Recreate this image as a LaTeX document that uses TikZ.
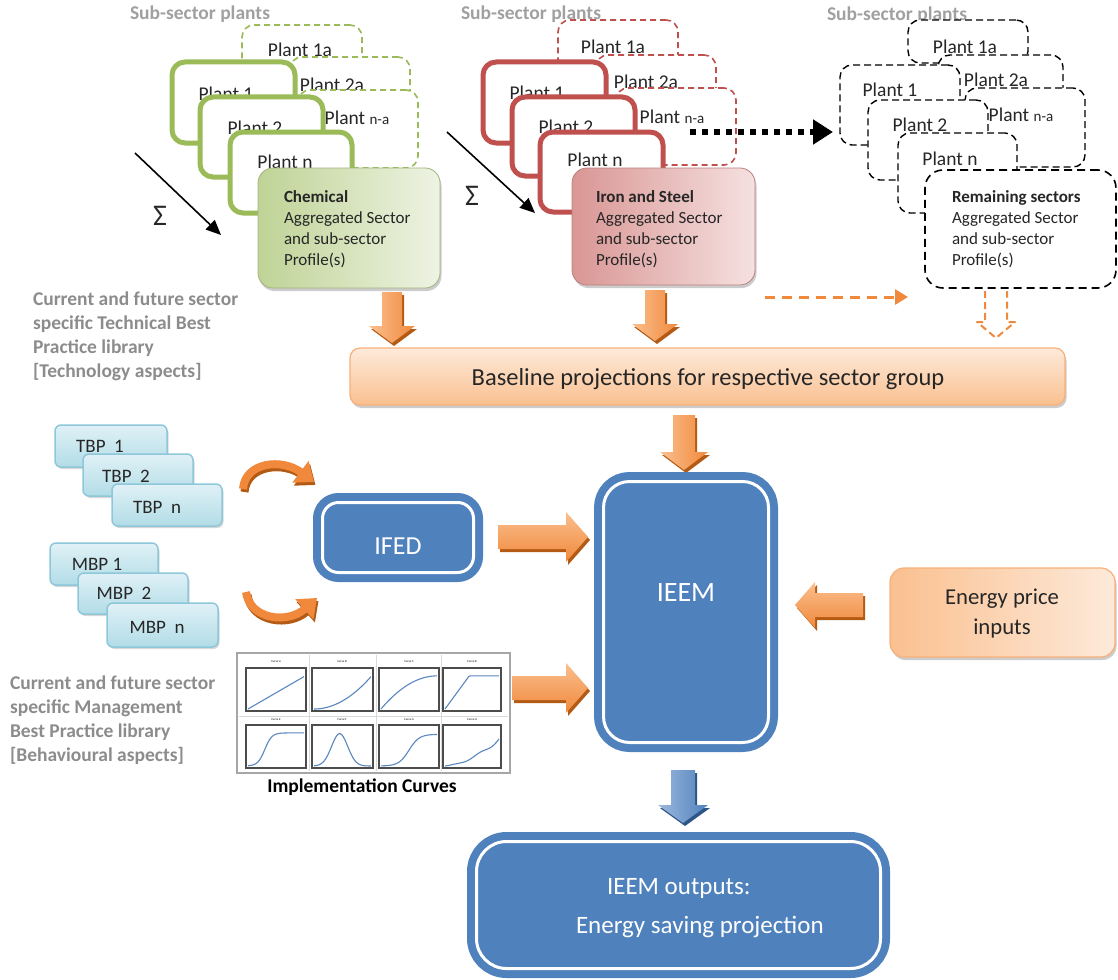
\documentclass[tikz,border=0pt]{standalone}
\usepackage{fontspec}
\setmainfont{Carlito}
\usetikzlibrary{arrows.meta,shadows,calc}
\definecolor{cgreen}{HTML}{9BBB59}
\definecolor{cred}{HTML}{C0504D}
\definecolor{cblue}{HTML}{4F81BD}
\definecolor{corange}{HTML}{F0893C}
\definecolor{corlight}{HTML}{FBBF8E}
\definecolor{cordark}{HTML}{B35A14}
\definecolor{blight}{HTML}{9DB9DD}
\definecolor{bdark}{HTML}{2D5587}
\definecolor{greenA}{HTML}{BFD396}
\definecolor{greenB}{HTML}{EEF3E3}
\definecolor{redA}{HTML}{D99694}
\definecolor{redB}{HTML}{F5E1E0}
\definecolor{peachA}{HTML}{FAC090}
\definecolor{peachB}{HTML}{FDEADA}
\definecolor{peachD}{HTML}{F8B07A}
\definecolor{tbpA}{HTML}{B2DCE7}
\definecolor{tbpB}{HTML}{E0F1F6}
\definecolor{tbpD}{HTML}{8DC7D9}
\definecolor{lblgray}{HTML}{8C8C8C}
\definecolor{subgray}{HTML}{A0A0A0}
\definecolor{txt}{HTML}{262626}
\definecolor{curveblue}{HTML}{5B87C0}

\newcommand{\rbox}[6]{\node[#1, anchor=north west, minimum width={#5pt-#3pt}, minimum height={#6pt-#4pt}] (#2) at (#3,#4) {};}
% vertical block arrow: x, ytail, ybase, ytip, shaft half, head half, style
\newcommand{\vblock}[7]{%
 \begin{scope}[shift={(2,3)}]
 \fill[#7dark] (#1-#5,#2) -- (#1+#5,#2) -- (#1+#5,#3) -- (#1+#6,#3) -- (#1,#4) -- (#1-#6,#3) -- (#1-#5,#3) -- cycle;
 \end{scope}
 \shade[#7] (#1-#5,#2) -- (#1+#5,#2) -- (#1+#5,#3) -- (#1+#6,#3) -- (#1,#4) -- (#1-#6,#3) -- (#1-#5,#3) -- cycle;}
% horizontal block arrow: y, xtail, xbase, xtip, shaft half, head half, style
\newcommand{\hblock}[7]{%
 \begin{scope}[shift={(2,3)}]
 \fill[#7dark] (#2,#1-#5) -- (#3,#1-#5) -- (#3,#1-#6) -- (#4,#1) -- (#3,#1+#6) -- (#3,#1+#5) -- (#2,#1+#5) -- cycle;
 \end{scope}
 \shade[#7h] (#2,#1-#5) -- (#3,#1-#5) -- (#3,#1-#6) -- (#4,#1) -- (#3,#1+#6) -- (#3,#1+#5) -- (#2,#1+#5) -- cycle;}
% small plot: left, top, right, bottom, function
\newcommand{\cplot}[5]{%
 \draw[black!70, line width=1.2pt, fill=white] (#1,#2) rectangle (#3,#4);
 \draw[curveblue, line width=1.1pt, domain=0:1, samples=40] plot ({#1+2+\x*(#3-#1-4)}, {#4-2-(#5)*(#4-#2-7)});}

\tikzset{
 plantG/.style={draw=cgreen, line width=5pt, fill=white, rounded corners=13pt},
 plantR/.style={draw=cred, line width=5pt, fill=white, rounded corners=13pt},
 dashG/.style={draw=cgreen, line width=1.6pt, dash pattern=on 6pt off 4pt, fill=white, rounded corners=12pt},
 dashR/.style={draw=cred, line width=1.6pt, dash pattern=on 6pt off 4pt, fill=white, rounded corners=12pt},
 dashK/.style={draw=black, line width=1.4pt, dash pattern=on 7pt off 4pt, fill=white, rounded corners=12pt},
 ptext/.style={font=\fontsize{19.5}{20}\selectfont, text=txt},
 sectext/.style={anchor=north west, align=left, font=\fontsize{17}{21}\selectfont, text=txt},
 subgray/.style={anchor=west, font=\bfseries\fontsize{19.5}{20}\selectfont, text=subgray},
 lbl/.style={anchor=north west, align=left, font=\bfseries\fontsize{19.5}{24}\selectfont, text=lblgray},
 soft/.style={drop shadow={shadow xshift=1.5pt, shadow yshift=-3pt, fill=black!40, opacity=0.5}},
 chemS/.style={soft, rounded corners=15pt, left color=greenA, right color=greenB, draw=greenA!85!black, line width=0.8pt},
 ironS/.style={soft, rounded corners=15pt, left color=redA, right color=redB, draw=redA!85!black, line width=0.8pt},
 remS/.style={draw=black, line width=1.6pt, dash pattern=on 8pt off 5pt, fill=white, rounded corners=18pt},
 peachS/.style={soft, rounded corners=10pt, top color=peachB, bottom color=peachA, draw=peachD, line width=1.2pt},
 energyS/.style={soft, rounded corners=14pt, left color=peachA, right color=peachB, draw=peachD, line width=1.2pt},
 tbpS/.style={drop shadow={shadow xshift=1.5pt, shadow yshift=-2pt, fill=black!30, opacity=0.5}, rounded corners=6pt, top color=tbpB, bottom color=tbpA, draw=tbpD, line width=1.5pt},
 tbptext/.style={font=\fontsize{19}{20}\selectfont, text=txt},
 bigblue/.style={draw=cblue, line width=8pt, double=white, double distance=3pt, fill=cblue},
 wtext/.style={text=white},
 sigma/.style={font=\fontsize{30}{30}\selectfont, text=txt},
 oarr/.style={left color=corlight, right color=corange},
 oarrh/.style={top color=corlight, bottom color=corange},
 oarrdark/.style={fill=cordark},
 barr/.style={left color=blight, right color=cblue},
 barrh/.style={top color=blight, bottom color=cblue},
 barrdark/.style={fill=bdark},
 sumarrow/.style={line width=1.6pt, -{Triangle[length=15pt,width=13pt]}},
 curvetip/.style={line width=8pt, -{Triangle[length=17pt,width=26pt]}},
}

\begin{document}
\begin{tikzpicture}[x=1pt,y=-1pt, every node/.style={inner sep=0pt, outer sep=0pt}]
\useasboundingbox (0,0) rectangle (1118,979);

% ---------- Group 1 (Chemical) ----------
\node[subgray] (sub1) at (130,14) {Sub-sector plants};
\rbox{dashG}{ga1}{242}{25}{362}{103}
\node[ptext] (ga1t) at (300,50) {Plant 1a};
\rbox{dashG}{ga2}{290}{57}{410}{135}
\node[ptext] (ga2t) at (332,85) {Plant 2a};
\rbox{dashG}{gan}{298}{90}{418}{168}
\node[ptext] (gant) at (357,118) {Plant {\fontsize{15}{15}\selectfont n-a}};
\rbox{plantG}{gp1}{172}{62}{295}{143}
\node[ptext] (gp1t) at (226,94) {Plant 1};
\rbox{plantG}{gp2}{200}{97}{323}{177}
\node[ptext] (gp2t) at (255,128) {Plant 2};
\rbox{plantG}{gpn}{230}{132}{352}{213}
\node[ptext] (gpnt) at (285,162) {Plant n};
\rbox{chemS}{chem}{258}{168}{440}{288}
\node[sectext] (chemt) at (284,190.5) {\textbf{Chemical}\\Aggregated Sector\\and sub-sector\\Profile(s)};
\coordinate (s1a) at (135,153);
\coordinate (s1b) at (221,235);
\draw[sumarrow] (s1a) -- (s1b);
\node[sigma] (sig1) at (160,216) {Σ};

% ---------- Group 2 (Iron and Steel) ----------
\node[subgray] (sub2) at (461,14) {Sub-sector plants};
\rbox{dashR}{ra1}{558}{20}{678}{98}
\node[ptext] (ra1t) at (613,47) {Plant 1a};
\rbox{dashR}{ra2}{596}{55}{716}{133}
\node[ptext] (ra2t) at (646,82) {Plant 2a};
\rbox{dashR}{ran}{616}{88}{736}{165}
\node[ptext] (rant) at (672,117) {Plant {\fontsize{15}{15}\selectfont n-a}};
\rbox{plantR}{rp1}{483}{62}{606}{143}
\node[ptext] (rp1t) at (537,93) {Plant 1};
\rbox{plantR}{rp2}{512}{97}{635}{176}
\node[ptext] (rp2t) at (566,127) {Plant 2};
\rbox{plantR}{rpn}{540}{132}{663}{212}
\node[ptext] (rpnt) at (595,160) {Plant n};
\rbox{ironS}{iron}{572}{168}{755}{285}
\node[sectext] (iront) at (596,190.5) {\textbf{Iron and Steel}\\Aggregated Sector\\and sub-sector\\Profile(s)};
\coordinate (s2a) at (447,132);
\coordinate (s2b) at (535,213);
\draw[sumarrow] (s2a) -- (s2b);
\node[sigma] (sig2) at (472,196) {Σ};

% ---------- Group 3 (Remaining sectors) ----------
\node[subgray] (sub3) at (827,15) {Sub-sector plants};
\rbox{dashK}{ka1}{908}{20}{1028}{63}
\node[ptext] (ka1t) at (965,47) {Plant 1a};
\rbox{dashK}{ka2}{938}{55}{1063}{133}
\node[ptext] (ka2t) at (996,80) {Plant 2a};
\rbox{dashK}{kan}{965}{88}{1085}{167}
\node[ptext] (kant) at (1021,115) {Plant {\fontsize{15}{15}\selectfont n-a}};
\rbox{dashK}{kp1}{840}{65}{960}{145}
\node[ptext] (kp1t) at (890,90) {Plant 1};
\rbox{dashK}{kp2}{868}{100}{988}{180}
\node[ptext] (kp2t) at (920,125) {Plant 2};
\rbox{dashK}{kpn}{898}{133}{1017}{213}
\node[ptext] (kpnt) at (950,159) {Plant n};
\rbox{remS}{rem}{925}{170}{1116}{288}
\node[sectext] (remt) at (952,190.5) {\textbf{Remaining sectors}\\Aggregated Sector\\and sub-sector\\Profile(s)};

% dotted arrow from iron group to remaining group
\coordinate (dotA) at (690,132);
\coordinate (dotB) at (833,132);
\draw[line width=6pt, dash pattern=on 6pt off 6pt, -{Triangle[length=20pt,width=24pt]}] (dotA) -- (dotB);

% orange dashed arrow
\coordinate (odA) at (765,297);
\coordinate (odB) at (908,297);
\draw[corange, line width=3pt, dash pattern=on 10pt off 7pt, -{Triangle[length=13pt,width=15pt]}] (odA) -- (odB);

% hollow dashed arrow under Remaining sectors
\draw[corange, line width=2pt, dash pattern=on 7pt off 4pt, line join=round]
 (985,291) -- (985,322) -- (977,322) -- (996,338) -- (1015,322) -- (1007,322) -- (1007,291);

% ---------- Baseline ----------
\rbox{peachS}{base}{350}{348}{1065}{405}
\node[font=\fontsize{24.5}{25}\selectfont, text=txt] (baset) at (708,379) {Baseline projections for respective sector group};

\vblock{392}{292}{326}{343}{10}{23}{oarr}
\vblock{655}{290}{324}{341}{10}{23}{oarr}
\vblock{684}{415}{452}{470}{11}{24}{oarr}

% ---------- labels ----------
\node[lbl] (lbl1) at (33,292) {Current and future sector\\specific Technical Best\\Practice library\\{[}Technology aspects{]}};
\node[lbl] (lbl2) at (10,676) {Current and future sector\\specific Management\\Best Practice library\\{[}Behavioural aspects{]}};

% ---------- TBP / MBP ----------
\rbox{tbpS}{tbp1}{55}{425}{167}{467}
\node[tbptext] (tbp1t) at (100,446) {TBP\ \ 1};
\rbox{tbpS}{tbp2}{83}{454}{193}{496}
\node[tbptext] (tbp2t) at (126,476) {TBP\ \ 2};
\rbox{tbpS}{tbpn}{112}{484}{222}{526}
\node[tbptext] (tbpnt) at (157,507) {TBP\ \ n};
\rbox{tbpS}{mbp1}{50}{543}{158}{585}
\node[tbptext] (mbp1t) at (97,564) {MBP\ 1};
\rbox{tbpS}{mbp2}{78}{573}{188}{614}
\node[tbptext] (mbp2t) at (124,593) {MBP\ \ 2};
\rbox{tbpS}{mbpn}{107}{603}{218}{647}
\node[tbptext] (mbpnt) at (157,627) {MBP\ \ n};

% curved orange arrows
\begin{scope}[shift={(1.5,3)}]
\draw[cordark, curvetip] (243,489) .. controls (245,462) and (282,458) .. (314,482);
\draw[cordark, curvetip] (246,592) .. controls (250,620) and (288,624) .. (317,598);
\end{scope}
\draw[corange, curvetip] (243,489) .. controls (245,462) and (282,458) .. (314,482);
\draw[corange, curvetip] (246,592) .. controls (250,620) and (288,624) .. (317,598);

% ---------- IFED / IEEM ----------
\node[bigblue, minimum width=151pt, minimum height=70pt, rounded corners=16pt] (ifed) at (398,537.5) {};
\node[wtext, font=\fontsize{26}{26}\selectfont] (ifedt) at (398,546) {IFED};
\node[bigblue, minimum width=165pt, minimum height=261pt, rounded corners=26pt] (ieem) at (686,612) {};
\node[wtext, font=\fontsize{28}{28}\selectfont] (ieemt) at (686,593) {IEEM};

\hblock{537}{498}{566}{588}{12}{25}{oarr}
\hblock{688}{512}{566}{588}{12}{25}{oarr}

% ---------- Energy price ----------
\rbox{energyS}{energy}{890}{568}{1115}{657}
\node[align=center, font=\fontsize{22.7}{30}\selectfont, text=txt] (energyt) at (1002,614) {Energy price\\inputs};
\hblock{605}{863}{815}{795}{12}{23}{oarr}

% ---------- Implementation curves ----------
\draw[black!35, line width=1.5pt, fill=white] (237,653) rectangle (510,773);
\draw[black!15, line width=1pt] (309,655) -- (309,771) (376,655) -- (376,771) (441,655) -- (441,771) (239,716) -- (508,716);
\foreach \cx/\nm in {276/A,342/B,409/C,472/D}{\node[font=\fontsize{3}{3}\selectfont] at (\cx,662) {Curve \nm};}
\foreach \cx/\nm in {276/E,342/F,409/G,472/H}{\node[font=\fontsize{3}{3}\selectfont] at (\cx,720) {Curve \nm};}
\cplot{246}{668}{306}{711}{0.9*\x}
\cplot{312}{668}{373}{711}{0.9*\x*\x}
\cplot{379}{668}{439}{711}{0.92*(1-(1-\x)*(1-\x))}
\cplot{443}{668}{501}{711}{min(2.05*\x,0.92)}
\cplot{246}{725}{306}{768}{0.92/(1+exp(-16*(\x-0.3)))}
\cplot{312}{725}{373}{768}{0.9*exp(-((\x-0.45)/0.2)*((\x-0.45)/0.2))}
\cplot{379}{725}{439}{768}{0.88/(1+exp(-11*(\x-0.5)))}
\cplot{443}{725}{501}{768}{0.6*\x*\x+0.15*\x+0.05*sin(720*\x)*\x}
\node[font=\bfseries\fontsize{19.5}{20}\selectfont, text=black] (implt) at (362,787) {Implementation Curves};

% ---------- Outputs ----------
\vblock{683}{770}{805}{823}{12}{25}{barr}
\node[bigblue, minimum width=404pt, minimum height=127pt, rounded corners=30pt] (outp) at (678.5,905) {};
\node[wtext, anchor=west, font=\fontsize{25}{25}\selectfont] (outt1) at (607,888) {IEEM outputs:};
\node[wtext, anchor=west, font=\fontsize{25}{25}\selectfont] (outt2) at (576,927) {Energy saving projection};
\end{tikzpicture}
\end{document}
